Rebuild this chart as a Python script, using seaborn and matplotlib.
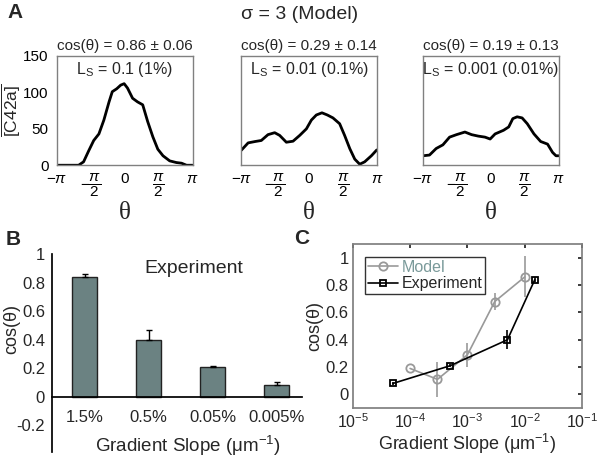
import numpy as np
import matplotlib
matplotlib.use("Agg")
import matplotlib.pyplot as plt
import seaborn as sns
import pandas as pd

# ---------------- data ----------------
# Panel A curves (theta in rad, value)
theta1 = [-3.14, -2.5, -2.14, -1.91, -1.67, -1.44, -1.20, -0.97, -0.73, -0.58, -0.375, -0.19, -0.03, 0.125, 0.36, 0.59, 0.83, 1.06, 1.30, 1.53, 1.77, 2.08, 2.39, 2.63, 2.86, 3.14]
vals1 = [0, 0, 0, 4.7, 20, 34, 43, 62, 87, 101, 105, 110, 112, 106, 92, 87, 83, 60, 39, 22, 13, 6, 3.7, 2.8, 0, 0]

theta2 = [-3.14, -2.82, -2.51, -2.21, -1.90, -1.59, -1.36, -1.05, -0.74, -0.43, -0.12, 0.11, 0.34, 0.60, 0.85, 1.11, 1.42, 1.65, 1.89, 2.12, 2.35, 2.58, 2.89, 3.14]
vals2 = [20.5, 30.7, 32.5, 34, 42, 44.7, 41, 31.6, 33, 41, 50, 62, 69, 72, 69, 65, 57, 41, 22.8, 8.4, 1.4, 4.7, 13, 21]

theta3 = [-3.14, -2.84, -2.53, -2.22, -1.91, -1.59, -1.20, -0.89, -0.58, -0.27, -0.03, 0.20, 0.59, 0.83, 1.02, 1.22, 1.45, 1.69, 2.0, 2.31, 2.63, 2.86, 3.02, 3.14]
vals3 = [13, 14, 23, 28, 38.6, 42, 45.6, 42, 40, 38.6, 36, 43, 48, 52.6, 64, 66.5, 65, 57, 43, 32.6, 29, 17.7, 13, 13]

cos_titles = ["cos(θ) = 0.86 ± 0.06", "cos(θ) = 0.29 ± 0.14", "cos(θ) = 0.19 ± 0.13"]
ls_labels = [r"L$_\mathrm{S}$ = 0.1 (1%)", r"L$_\mathrm{S}$ = 0.01 (0.1%)", r"L$_\mathrm{S}$ = 0.001 (0.01%)"]

# Panel B
bar_cats = ["1.5%", "0.5%", "0.05%", "0.005%"]
bar_vals = [0.84, 0.40, 0.21, 0.08]
bar_errs = [0.02, 0.07, 0.005, 0.02]

# Panel C
model_x = [1e-4, 3e-4, 1e-3, 3e-3, 1e-2]
model_y = [0.19, 0.11, 0.29, 0.68, 0.86]
model_err = [0.0, 0.13, 0.09, 0.06, 0.15]
exp_x = [5e-5, 5e-4, 5e-3, 1.5e-2]
exp_y = [0.08, 0.21, 0.40, 0.84]
exp_err = [0.01, 0.01, 0.07, 0.02]

# ---------------- style ----------------
sns.set_theme(style="white")
plt.rcParams['font.family'] = ['Liberation Sans', 'DejaVu Sans']
plt.rcParams['mathtext.fontset'] = 'custom'
plt.rcParams['mathtext.rm'] = 'Liberation Sans'
plt.rcParams['mathtext.it'] = 'Liberation Sans:italic'
plt.rcParams['xtick.direction'] = 'in'
plt.rcParams['ytick.direction'] = 'in'

fig = plt.figure(figsize=(6.0, 4.59), dpi=100)

# ---------------- Panel A ----------------
lefts = [0.095, 0.402, 0.705]
curves = [(theta1, vals1), (theta2, vals2), (theta3, vals3)]
xt = [-np.pi, -np.pi / 2, 0, np.pi / 2, np.pi]
xtl = [r"$-\pi$", r"$-\dfrac{\pi}{2}$", r"$0$", r"$\dfrac{\pi}{2}$", r"$\pi$"]
for i, (l, (th, v)) in enumerate(zip(lefts, curves)):
    ax = fig.add_axes([l, 0.640, 0.226, 0.238])
    df = pd.DataFrame({"theta": th, "val": v})
    sns.lineplot(data=df, x="theta", y="val", ax=ax, color="black", lw=2)
    ax.set_xlim(-np.pi, np.pi)
    ax.set_ylim(0, 150)
    ax.set_yticks([0, 50, 100, 150])
    ax.set_xticks(xt)
    ax.set_xticklabels(xtl, fontsize=11)
    if i == 0:
        ax.set_yticklabels(["0", "50", "100", "150"], fontsize=11)
        ax.set_ylabel(r"$\overline{[\mathrm{C42a}]}$", fontsize=12.5)
        ax.yaxis.set_label_coords(-0.255, 0.5)
    else:
        ax.set_yticklabels([])
        ax.set_ylabel("")
    ax.set_xlabel("θ", fontsize=18, family="Liberation Serif", labelpad=2)
    ax.set_title(cos_titles[i], fontsize=11, pad=4)
    ax.text(0.5, 0.96, ls_labels[i], transform=ax.transAxes, ha="center", va="top", fontsize=11.5)
    ax.tick_params(axis="x", length=3, pad=5, colors="black")
    ax.tick_params(axis="y", length=3, pad=6, colors="black")
    for s in ax.spines.values():
        s.set_color("#808080")
        s.set_linewidth(1.0)

fig.text(0.5, 0.968, "σ = 3 (Model)", ha="center", va="center", fontsize=14)
fig.text(0.013, 0.972, "A", ha="left", va="center", fontsize=15, fontweight="bold")

# ---------------- Panel B ----------------
axb = fig.add_axes([0.0867, 0.015, 0.417, 0.431])
dfb = pd.DataFrame({"cat": bar_cats, "val": bar_vals})
sns.barplot(data=dfb, x="cat", y="val", ax=axb, color="#6b8282", width=0.4,
            edgecolor="#222222", linewidth=1, saturation=1)
axb.errorbar(range(len(bar_cats)), bar_vals, yerr=[[0] * 4, bar_errs], fmt="none",
             ecolor="black", elinewidth=1, capsize=2.5)
axb.set_xlim(-0.51, 3.4)
axb.set_ylim(-0.39, 1.0)
axb.set_yticks([-0.2, 0, 0.2, 0.4, 0.6, 0.8, 1])
axb.set_yticklabels(["-0.2", "0", "0.2", "0.4", "0.6", "0.8", "1"], fontsize=12)
axb.spines["top"].set_visible(False)
axb.spines["right"].set_visible(False)
axb.spines["bottom"].set_position(("data", 0))
for s in ["left", "bottom"]:
    axb.spines[s].set_color("black")
axb.tick_params(axis="x", length=0, pad=10, labelsize=12)
axb.tick_params(axis="y", length=3, direction="out", pad=2)
axb.set_xlabel("")
axb.set_ylabel("cos(θ)", fontsize=13)
axb.yaxis.set_label_coords(-0.125, 0.62)
axb.text(1.7, 0.9, "Experiment", ha="center", va="center", fontsize=14)
axb.text(1.62, -0.35, r"Gradient Slope ($\mathrm{\mu m^{-1}}$)", ha="center", va="center", fontsize=13.5)
fig.text(0.010, 0.478, "B", ha="left", va="center", fontsize=15, fontweight="bold")

# ---------------- Panel C ----------------
axc = fig.add_axes([0.588, 0.111, 0.382, 0.357])
dfm = pd.DataFrame({"x": model_x, "y": model_y})
dfe = pd.DataFrame({"x": exp_x, "y": exp_y})
axc.errorbar(model_x, model_y, yerr=model_err, fmt="none", ecolor="#999999", elinewidth=1.2)
axc.errorbar(exp_x, exp_y, yerr=exp_err, fmt="none", ecolor="black", elinewidth=1.2)
sns.lineplot(data=dfm, x="x", y="y", ax=axc, color="#999999", marker="o", markersize=6,
             markerfacecolor="none", markeredgecolor="#999999", markeredgewidth=1.3, lw=1.2, label="Model")
sns.lineplot(data=dfe, x="x", y="y", ax=axc, color="black", marker="s", markersize=4.5,
             markerfacecolor="none", markeredgecolor="black", markeredgewidth=1.3, lw=1.2, label="Experiment")
axc.set_xscale("log")
axc.set_xlim(1e-5, 1e-1)
axc.set_ylim(-0.1, 1.1)
axc.set_xticks([1e-5, 1e-4, 1e-3, 1e-2, 1e-1])
axc.set_yticks([0, 0.2, 0.4, 0.6, 0.8, 1])
axc.set_yticklabels(["0", "0.2", "0.4", "0.6", "0.8", "1"], fontsize=12)
axc.tick_params(axis="x", which="major", labelsize=11.5, length=3, top=True)
axc.tick_params(axis="x", which="minor", length=1.5, top=True)
axc.tick_params(axis="y", length=3, right=True)
axc.tick_params(axis="both", pad=3)
axc.minorticks_on()
axc.tick_params(axis="y", which="minor", left=False, right=False)
for s in axc.spines.values():
    s.set_color("#808080")
axc.set_xlabel(r"Gradient Slope ($\mathrm{\mu m^{-1}}$)", fontsize=13, labelpad=1)
axc.set_ylabel("cos(θ)", fontsize=13)
axc.yaxis.set_label_coords(-0.13, 0.5)
leg = axc.legend(loc="upper left", bbox_to_anchor=(0.055, 0.92), fontsize=11.5, frameon=True,
                 fancybox=False, borderpad=0.15, handlelength=1.9, handletextpad=0.2,
                 labelspacing=0.1, borderaxespad=0)
leg.get_frame().set_edgecolor("black")
leg.get_frame().set_linewidth(1.0)
leg.texts[0].set_color("#7a9a9a")
fig.text(0.49, 0.480, "C", ha="left", va="center", fontsize=15, fontweight="bold")

fig.savefig("out.png", dpi=100)
